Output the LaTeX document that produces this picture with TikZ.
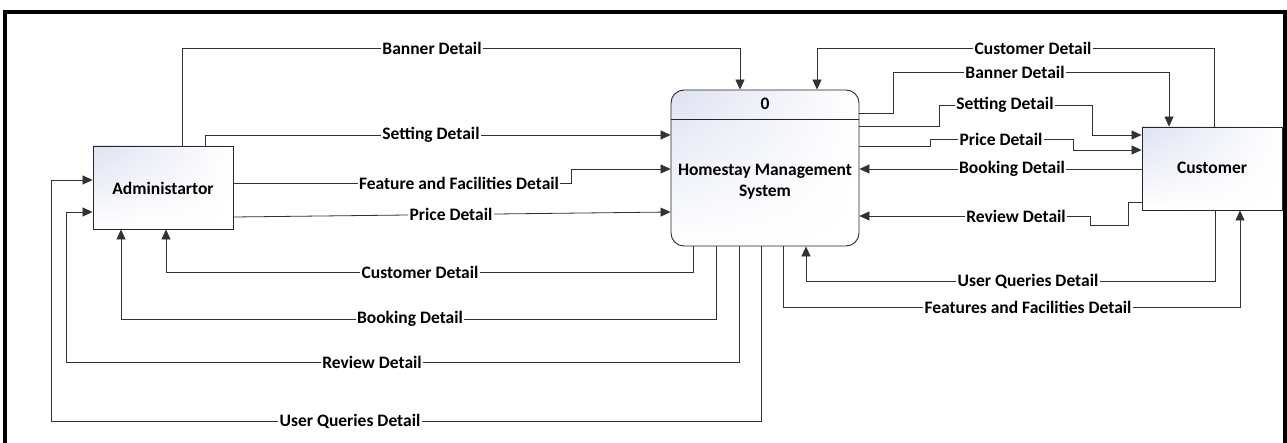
\documentclass[tikz,border=0pt]{standalone}
\usepackage{fontspec}
\setmainfont{Carlito}
\usetikzlibrary{arrows.meta,shadings}
\definecolor{gradc}{RGB}{222,226,242}
\definecolor{linec}{RGB}{50,50,50}
\begin{document}
\begin{tikzpicture}[x=1pt,y=-1pt,
  every node/.style={font=\fontsize{17.5}{21}\selectfont\bfseries},
  entity/.style={draw=black!85, line width=0.9pt, minimum width=140pt, minimum height=83pt,
    upper left=gradc, upper right=white, lower left=white, lower right=white, inner sep=0pt},
  procbox/.style={draw=black!85, line width=0.9pt, rounded corners=13pt, minimum width=188pt, minimum height=156pt,
    upper left=gradc, upper right=white, lower left=white, lower right=white, inner sep=0pt},
  flow/.style={draw=linec, line width=0.8pt, -{Triangle[length=10pt,width=9pt]}},
  lbl/.style={fill=white, inner sep=1.2pt, text=black}]
\useasboundingbox (0,0) rectangle (1287,443);
\fill[white] (0,0) rectangle (1287,443);
% frame
\draw[line width=3.5pt, black] (5,446) -- (5,12) -- (1285,12) -- (1285,446);
% nodes
\node[entity] (admin) at (163,187.5) {};
\node (admintxt) at (163,188) {Administartor};
\node[procbox] (proc) at (765,168) {};
\draw[black!85, line width=0.9pt] (proc.west |- 0,119) coordinate (hl) -- (proc.east |- 0,119) coordinate (hr);
\node (procid) at (765,104) {0};
\node[align=center] (procname) at (765,182) {Homestay Management\\System};
\node[entity] (cust) at (1212,168.5) {};
\node (custtxt) at (1212,168) {Customer};
% Administrator side
\draw[flow] (182,0 |- admin.north) -- (182,48) -- (740,48) -- (740,0 |- proc.north);
\draw[flow] (205,0 |- admin.north) -- (205,135) -- (proc.west |- 0,135);
\draw[flow] (admin.east |- 0,183) -- (571,183) -- (571,169) -- (proc.west |- 0,169);
\draw[flow] (admin.east |- 0,217) -- (proc.west |- 0,212);
\draw[flow] (693,0 |- proc.south) -- (693,272) -- (166,272) -- (166,0 |- admin.south);
\draw[flow] (716,0 |- proc.south) -- (716,319) -- (121,319) -- (121,0 |- admin.south);
\draw[flow] (739,0 |- proc.south) -- (739,362) -- (66,362) -- (66,212) -- (admin.west |- 0,212);
\draw[flow] (761,0 |- proc.south) -- (761,421) -- (51,421) -- (51,180) -- (admin.west |- 0,180);
% Customer side
\draw[flow] (1214,0 |- cust.north) -- (1214,48) -- (817,48) -- (817,0 |- proc.north);
\draw[flow] (proc.east |- 0,113) -- (893,113) -- (893,72) -- (1169,72) -- (1169,0 |- cust.north);
\draw[flow] (proc.east |- 0,126) -- (939,126) -- (939,105) -- (1092,105) -- (1092,135) -- (cust.west |- 0,135);
\draw[flow] (proc.east |- 0,146) -- (930,146) -- (930,139) -- (1073,139) -- (1073,150) -- (cust.west |- 0,150);
\draw[flow] (cust.west |- 0,169) -- (proc.east |- 0,169);
\draw[flow] (cust.west |- 0,202) -- (1128,202) -- (1128,225) -- (1090,225) -- (1090,216) -- (proc.east |- 0,216);
\draw[flow] (1215,0 |- cust.south) -- (1215,281) -- (806,281) -- (806,0 |- proc.south);
\draw[flow] (783,0 |- proc.south) -- (783,307) -- (1240,307) -- (1240,0 |- cust.south);
% labels
\node[lbl] (l1) at (432,48) {Banner Detail};
\node[lbl] (l2) at (431,135) {Setting Detail};
\node[lbl] (l3) at (459,183) {Feature and Facilities Detail};
\node[lbl] (l4) at (451,214) {Price Detail};
\node[lbl] (l5) at (420,272) {Customer Detail};
\node[lbl] (l6) at (410,319) {Booking Detail};
\node[lbl] (l7) at (372,362) {Review Detail};
\node[lbl] (l8) at (350,421) {User Queries Detail};
\node[lbl] (r1) at (1033,48) {Customer Detail};
\node[lbl] (r2) at (1015,72) {Banner Detail};
\node[lbl] (r3) at (1005,105) {Setting Detail};
\node[lbl] (r4) at (1001,139) {Price Detail};
\node[lbl] (r5) at (1012,169) {Booking Detail};
\node[lbl] (r6) at (1016,216) {Review Detail};
\node[lbl] (r7) at (1028,281) {User Queries Detail};
\node[lbl] (r8) at (1028,307) {Features and Facilities Detail};
\end{tikzpicture}
\end{document}
